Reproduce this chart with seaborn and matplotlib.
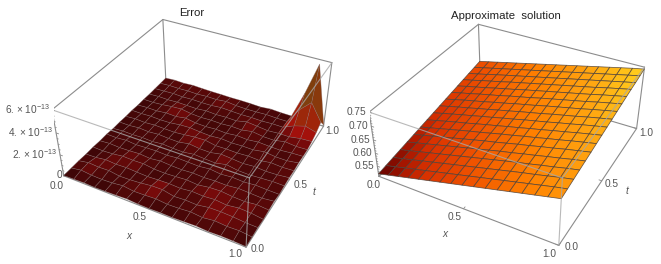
import numpy as np
import seaborn as sns
import matplotlib
matplotlib.use('Agg')
import matplotlib.pyplot as plt
from matplotlib.colors import LinearSegmentedColormap
from mpl_toolkits.mplot3d import proj3d

x_nodes = [0, 0.0625, 0.125, 0.1875, 0.25, 0.3125, 0.375, 0.4375, 0.5, 0.5625, 0.625, 0.6875, 0.75, 0.8125, 0.875, 0.9375, 1]
t_nodes = [0, 0.0625, 0.125, 0.1875, 0.25, 0.3125, 0.375, 0.4375, 0.5, 0.5625, 0.625, 0.6875, 0.75, 0.8125, 0.875, 0.9375, 1]

# error in units of 1e-13, one row per t node
error = [
    [.03, .06, .09, .05, .07, .10, .15, .08, .06, .09, .07, .11, .15, .08, .12, .10, .05],
    [.05, .22, .11, .08, .13, .26, .12, .15, .21, .10, .14, .23, .12, .26, .17, .21, .08],
    [.08, .26, .19, .23, .07, .10, .18, .31, .33, .09, .15, .10, .28, .30, .25, .15, .12],
    [.06, .09, .23, .15, .19, .13, .08, .14, .17, .11, .23, .17, .25, .14, .29, .23, .07],
    [.10, .07, .13, .26, .22, .25, .10, .07, .13, .20, .10, .26, .30, .18, .13, .25, .15],
    [.07, .15, .09, .12, .18, .08, .20, .12, .08, .15, .09, .14, .11, .22, .16, .09, .21],
    [.11, .08, .17, .07, .12, .15, .09, .18, .14, .10, .21, .08, .17, .10, .19, .13, .10],
    [.06, .13, .10, .14, .08, .19, .11, .08, .23, .15, .09, .31, .12, .08, .14, .20, .17],
    [.09, .07, .16, .09, .17, .10, .07, .25, .12, .09, .29, .20, .10, .18, .09, .12, .23],
    [.07, .14, .08, .15, .11, .08, .17, .28, .31, .11, .13, .09, .15, .08, .23, .15, .19],
    [.10, .08, .12, .07, .09, .21, .25, .15, .09, .17, .08, .12, .09, .26, .12, .10, .25],
    [.06, .11, .08, .18, .13, .29, .12, .08, .14, .07, .18, .10, .21, .14, .10, .18, .21],
    [.09, .07, .14, .25, .31, .15, .08, .12, .08, .15, .10, .28, .12, .09, .29, .17, .20],
    [.07, .12, .08, .13, .10, .07, .16, .09, .13, .09, .31, .20, .08, .15, .13, .30, .35],
    [.10, .13, .17, .11, .15, .12, .13, .22, .17, .13, .15, .11, .16, .14, .60, .90, .60],
    [.12, .17, .15, .18, .14, .20, .17, .28, .16, .12, .13, .17, .12, .11, 1.60, 2.60, 1.00],
    [.15, .21, .17, .23, .18, .15, .14, .11, .12, .10, .05, .15, .09, .07, 2.60, 5.60, .12],
]

# approximate solution, one row per t node
solution = [
    [.520, .530, .540, .550, .560, .570, .580, .590, .600, .610, .620, .630, .640, .650, .660, .670, .680],
    [.525, .535, .545, .555, .565, .575, .585, .595, .605, .615, .625, .635, .645, .655, .665, .675, .684],
    [.530, .540, .550, .560, .570, .580, .590, .600, .610, .620, .630, .640, .650, .659, .669, .679, .688],
    [.535, .545, .555, .565, .575, .585, .595, .605, .615, .625, .635, .645, .654, .664, .673, .683, .692],
    [.540, .550, .560, .570, .580, .590, .600, .610, .620, .630, .639, .649, .658, .668, .677, .687, .696],
    [.545, .555, .565, .575, .585, .595, .605, .615, .624, .634, .644, .653, .663, .672, .682, .691, .700],
    [.550, .560, .570, .580, .590, .600, .609, .619, .629, .638, .648, .657, .667, .676, .686, .695, .704],
    [.555, .565, .575, .585, .594, .604, .614, .623, .633, .642, .652, .661, .671, .680, .690, .699, .708],
    [.560, .570, .580, .590, .599, .609, .618, .628, .637, .647, .656, .665, .675, .684, .694, .703, .712],
    [.565, .575, .585, .594, .604, .613, .623, .632, .642, .651, .660, .670, .679, .688, .698, .707, .716],
    [.570, .580, .590, .599, .608, .618, .627, .637, .646, .655, .665, .674, .683, .692, .702, .711, .720],
    [.575, .585, .594, .604, .613, .622, .632, .641, .650, .660, .669, .678, .687, .696, .706, .715, .724],
    [.580, .590, .599, .608, .618, .627, .636, .646, .655, .664, .673, .682, .691, .700, .710, .719, .728],
    [.585, .594, .604, .613, .622, .632, .641, .650, .659, .668, .677, .686, .695, .704, .714, .723, .732],
    [.590, .599, .608, .618, .627, .636, .645, .654, .663, .672, .681, .690, .699, .708, .717, .726, .735],
    [.595, .604, .613, .622, .631, .640, .649, .658, .667, .676, .685, .694, .703, .712, .721, .730, .739],
    [.600, .609, .618, .627, .636, .645, .654, .663, .672, .681, .690, .699, .708, .717, .726, .735, .743],
]

xt_ticks = [0, 0.5, 1]
xt_labels = ['0.0', '0.5', '1.0']
err_ticks = [0, 2, 4, 6]
err_minor = [.5, 1, 1.5, 2.5, 3, 3.5, 4.5, 5, 5.5]
err_labels = ['0', '2. × 10$^{-13}$', '4. × 10$^{-13}$', '6. × 10$^{-13}$']
sol_ticks = [0.55, 0.60, 0.65, 0.70, 0.75]
sol_minor = [0.51, 0.52, 0.53, 0.54, 0.56, 0.57, 0.58, 0.59, 0.61, 0.62, 0.63, 0.64, 0.66, 0.67, 0.68, 0.69, 0.71, 0.72, 0.73, 0.74]
sol_labels = ['0.55', '0.60', '0.65', '0.70', '0.75']

sns.set_theme(style='white', font='Liberation Sans')
plt.rcParams['mathtext.default'] = 'regular'
plt.rcParams['font.family'] = ['Liberation Sans', 'DejaVu Sans']

W, H = 661, 264
GREY = '#8c8c8c'
TXT = '#555555'

err_cmap = LinearSegmentedColormap.from_list('err', [(0, '#2e0506'), (.025, '#520808'), (.055, '#a00c0c'),
                                                     (.15, '#a81c08'), (.35, '#8c380c'), (1, '#5e4e10')])
sol_cmap = LinearSegmentedColormap.from_list('sol', [(0, '#5c0000'), (.1, '#a51500'), (.2, '#d83000'), (.4, '#f05500'),
                                                     (.6, '#ff8000'), (.8, '#ffa510'), (1, '#ffd21e')])

fig = plt.figure(figsize=(W/100, H/100), dpi=100)


def text_at(ax, x, t, z, s, dx, dy, **kw):
    u, v, _ = proj3d.proj_transform(x, t, z, ax.get_proj())
    ax.annotate(s, xy=(u, v), xytext=(dx, dy), textcoords='offset pixels', annotation_clip=False,
                color=TXT, fontsize=7.3, va='center', **kw)


def panel(rect_fit, view, z, zlim, cmap, vmin, vmax, edge, lw, zticks, zminor, zlabels, zoffs, xoffs, toffs, xlab, tlab):
    ax = fig.add_subplot(projection='3d', computed_zorder=False)
    s, a, b = rect_fit
    elev, azim, roll, focal, hy, hz = view
    x0, x1 = ax.viewLim.intervalx
    y0, y1 = ax.viewLim.intervaly
    ax.set_position([(a+s*x0)/W, 1-(b-s*y0)/H, s*(x1-x0)/W, s*(y1-y0)/H])
    ax.set_axis_off()
    ax.set_xlim(0, 1)
    ax.set_ylim(0, 1)
    ax.set_zlim(*zlim)
    ax.view_init(elev, azim, roll)
    ax.set_proj_type('persp', focal_length=focal)
    ax.set_box_aspect((1, hy, hz))

    zb, zt = zlim
    # edges behind the surface
    for xs, ts, zs in [([0, 1], [0, 0], [zb, zb]), ([1, 1], [0, 1], [zb, zb]), ([1, 0], [1, 1], [zb, zb]), ([0, 0], [1, 0], [zb, zb]),
                       ([0, 0], [1, 1], [zb, zt]), ([1, 0], [1, 1], [zt, zt]), ([0, 0], [1, 0], [zt, zt]),
                       ([0, 0], [0, 0], [zb, zt]), ([1, 1], [1, 1], [zb, zt])]:
        ax.plot(xs, ts, zs, color=GREY, lw=0.8, zorder=1)

    X, T = np.meshgrid(x_nodes, t_nodes)
    ax.plot_surface(X, T, np.array(z), rstride=1, cstride=1, cmap=cmap, vmin=vmin, vmax=vmax,
                    edgecolor=edge, linewidth=lw, antialiased=True, zorder=2)

    # edges in front of the surface
    for xs, ts, zs in [([0, 1], [0, 0], [zt, zt]), ([1, 1], [0, 1], [zt, zt]), ([1, 1], [0, 0], [zb, zt])]:
        ax.plot(xs, ts, zs, color='#a8a8a8', lw=0.8, alpha=0.8, zorder=3)

    # ticks
    for v in xt_ticks:
        ax.plot([v, v], [0, 0.015], [zb, zb], color=GREY, lw=0.6, zorder=1)
        ax.plot([1, 0.985], [v, v], [zb, zb], color=GREY, lw=0.6, zorder=1)
    for v in zticks:
        ax.plot([0, 0.015], [0, 0], [v, v], color=GREY, lw=0.6, zorder=1)
    for v in zminor:
        ax.plot([0, 0.008], [0, 0], [v, v], color=GREY, lw=0.5, zorder=1)

    for v, lab, o in zip(zticks, zlabels, zoffs):
        text_at(ax, 0, 0, v, lab, o[0], o[1], ha='right')
    for v, lab, o in zip(xt_ticks, xt_labels, xoffs):
        text_at(ax, v, 0, zb, lab, o[0], o[1], ha='center')
    for v, lab, o in zip(xt_ticks, xt_labels, toffs):
        text_at(ax, 1, v, zb, lab, o[0], o[1], ha='center')
    text_at(ax, 0.5, 0, zb, 'x', xlab[0], xlab[1], ha='center', style='italic')
    text_at(ax, 1, 0.5, zb, 't', tlab[0], tlab[1], ha='center', style='italic')
    return ax


panel((1528.19, 199.12, 118.66), (36.625, -61.018, 0.728, 0.425, 0.987, 0.405),
      error, (0, 6), err_cmap, 0, 6, (0.5, 0.4, 0.4, 0.5), 0.45,
      err_ticks, err_minor, err_labels,
      [(-2, 1), (-3, 1), (-3, 1), (-2, 1)],
      [(-7, -10), (-9, -8), (-11, -7)], [(12, -2), (12, -5), (9, -5)],
      (-20, -27), (25, -12))

panel((1510.11, 513.58, 120.97), (35.646, -61.549, 0.063, 0.451, 1.001, 0.394),
      solution, (0.51, 0.75), sol_cmap, 0.52, 0.745, (0.3, 0.25, 0.22, 0.85), 0.55,
      sol_ticks, sol_minor, sol_labels,
      [(-3, 0), (-3, 0), (-3, 0), (-3, 0), (-3, 0)],
      [(-5, -9), (-9, -8), (-10, -9)], [(13, -2), (10, -3), (10, -4)],
      (-18, -25), (25, -10))

fig.text(191.7/W, 1-12.7/H, 'Error', ha='center', va='center', fontsize=8.2, color='#222222')
fig.text(506/W, 1-16/H, 'Approximate  solution', ha='center', va='center', fontsize=8.2, color='#222222')

fig.savefig('out.png', dpi=100)
